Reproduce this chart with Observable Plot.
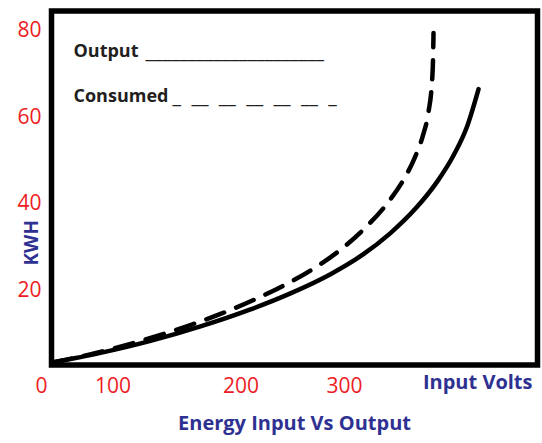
<!DOCTYPE html>
<html>
<head>
<meta charset="utf-8">
<script src="https://cdn.jsdelivr.net/npm/d3@7"></script>
<script src="https://cdn.jsdelivr.net/npm/@observablehq/plot@0.6"></script>
<style>
  html, body { margin: 0; padding: 0; background: #fff; }
</style>
</head>
<body>
<div id="chart"></div>
<script>
// ---- data ----
const xTicks = [0, 100, 200, 300];
const yTicks = [20, 40, 60, 80];

const outputVolts = [15.4, 82.5, 129.3, 168.4, 209.2, 247.8, 286.5, 315.5, 344.4, 368.6, 389.9, 405.3, 418.8, 429.5];
const outputKwh   = [3.38, 5.59, 8.36, 11.70, 15.62, 19.31, 23.73, 27.88, 33.21, 38.85, 45.19, 51.09, 58.03, 66.4];

const consumedVolts = [15.4, 54.5, 89.5, 113.7, 137.1, 162.1, 184.0, 212.1, 243.0, 270.1, 296.2, 318.4, 341.5, 357.0, 367.6, 375.4, 381.2, 384.1, 385.5, 386.0];
const consumedKwh   = [3.38, 4.74, 6.12, 7.68, 9.75, 12.18, 14.58, 17.78, 21.33, 25.02, 29.38, 34.04, 40.12, 45.47, 50.43, 55.41, 61.21, 66.75, 72.97, 79.31];

const legendOutput = "Output";
const legendConsumed = "Consumed";
const yTitle = "KWH";
const xTitle = "Input Volts";
const title = "Energy Input Vs Output";

const outputData = outputVolts.map((v, i) => ({volts: v, kwh: outputKwh[i]}));
const consumedData = consumedVolts.map((v, i) => ({volts: v, kwh: consumedKwh[i]}));

const red = "#ed1c24";
const blue = "#2e3192";
const ink = "#231f20";

// the reference's volt axis is unevenly spaced: warp volts piecewise onto the frame
const warp = d3.scaleLinear().domain([0, 100, 200, 300, 400]).range([41, 112.5, 240.5, 344, 447.5]);

const nb = "\u00a0";
const outputRule = "_".repeat(21);
const consumedRule = "_" + nb + nb + ["__", "__", "__", "__", "__"].join(nb + nb) + nb + nb + "_";

const chart = Plot.plot({
  width: 542,
  height: 443,
  marginLeft: 51,
  marginRight: 5,
  marginTop: 10.5,
  marginBottom: 78.5,
  style: {fontFamily: "'Open Sans', sans-serif", background: "#fff"},
  x: {type: "linear", transform: (v) => warp(v), domain: [51, 537], range: [51, 537]},
  y: {domain: [2.8, 84.4]},
  marks: [
    Plot.axisY({ticks: yTicks, tickSize: 0, tickPadding: 10, fontSize: 21, color: red, label: null}),
    Plot.axisX({ticks: xTicks.map(warp), tickFormat: (d) => String(Math.round(warp.invert(d))), tickSize: 0, tickPadding: 13, fontSize: 21, color: red, label: null}),
    Plot.line(outputData, {x: "volts", y: "kwh", stroke: "black", strokeWidth: 4.5, curve: "monotone-x"}),
    Plot.line(consumedData, {x: "volts", y: "kwh", stroke: "black", strokeWidth: 4.5, strokeDasharray: "19,13", curve: "monotone-x"}),
    Plot.frame({stroke: "black", strokeWidth: 5.5}),
    Plot.text([legendOutput], {text: d => d, frameAnchor: "top-left", dx: 22, dy: 33.7, textAnchor: "start", fontSize: 18, fontWeight: "bold", fill: ink}),
    Plot.text([outputRule], {text: d => d, frameAnchor: "top-left", dx: 94, dy: 33.2, textAnchor: "start", fontSize: 20, fontWeight: 600, fill: ink}),
    Plot.text([legendConsumed], {text: d => d, frameAnchor: "top-left", dx: 22, dy: 78.7, textAnchor: "start", fontSize: 18, fontWeight: "bold", fill: ink}),
    Plot.text([consumedRule], {text: d => d, frameAnchor: "top-left", dx: 121, dy: 78.2, textAnchor: "start", fontSize: 20, fontWeight: 600, fill: ink}),
    Plot.text([yTitle], {text: d => d, frameAnchor: "left", dx: -20, dy: 77.5, rotate: -90, fontSize: 19, fontWeight: "bold", fill: blue}),
    Plot.text([xTitle], {text: d => d, frameAnchor: "bottom-right", dx: -5, dy: 23.5, textAnchor: "end", fontSize: 20, fontWeight: "bold", fill: blue}),
    Plot.text([title], {text: d => d, frameAnchor: "bottom", dx: 0, dy: 65, fontSize: 20, fontWeight: "bold", fill: blue})
  ]
});
document.getElementById("chart").append(chart);
</script>
</body>
</html>
